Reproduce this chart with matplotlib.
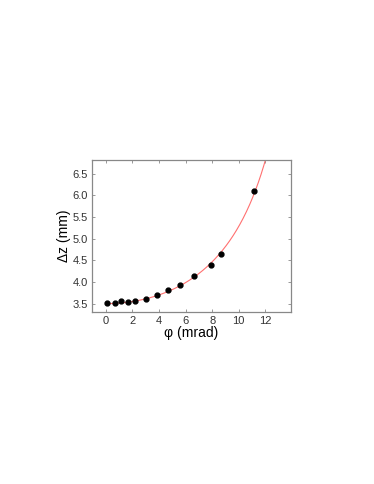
import numpy as np
import matplotlib.pyplot as plt

# pontos medidos (phi em mrad, dz em mm)
phi = [0.12, 0.72, 1.15, 1.65, 2.2, 3.02, 3.87, 4.65, 5.6, 6.65, 7.95, 8.67, 11.15]
dz = [3.52, 3.52, 3.56, 3.53, 3.56, 3.61, 3.70, 3.82, 3.94, 4.14, 4.39, 4.65, 6.10]

# parametros do ajuste: dz = z0 / (1 - (phi/phi_c)^2)
z0 = 3.5
phi_c = 17.2

xticks = [0, 2, 4, 6, 8, 10, 12]
yticks = [3.5, 4.0, 4.5, 5.0, 5.5, 6.0, 6.5]

plt.rcParams['font.family'] = ['Liberation Sans', 'DejaVu Sans']

fig = plt.figure(figsize=(3.74, 4.84), dpi=100)
ax = fig.add_axes([0.2468, 0.3548, 0.5305, 0.3146])

x_fit = np.linspace(0, 12.6, 300)
y_fit = z0 / (1 - (x_fit / phi_c) ** 2)
ax.plot(x_fit, y_fit, color='#ff7070', lw=0.8, zorder=2)
ax.plot(phi, dz, 'o', color='black', ms=3.5, zorder=3)

ax.set_xlim(-1, 13.9)
ax.set_ylim(3.3, 6.82)
ax.set_xticks(xticks)
ax.set_yticks(yticks)
ax.set_yticklabels([f'{v:.1f}' for v in yticks])

ax.tick_params(direction='in', length=2, width=0.6, color='#888888',
               labelsize=8, top=True, right=True, pad=3, labelcolor='#333333')
for s in ax.spines.values():
    s.set_color('#888888')
    s.set_linewidth(0.9)

ax.set_xlabel('φ (mrad)', fontsize=10, labelpad=0)
ax.set_ylabel('Δz (mm)', fontsize=10, labelpad=1)

fig.savefig('out.png', dpi=100)
